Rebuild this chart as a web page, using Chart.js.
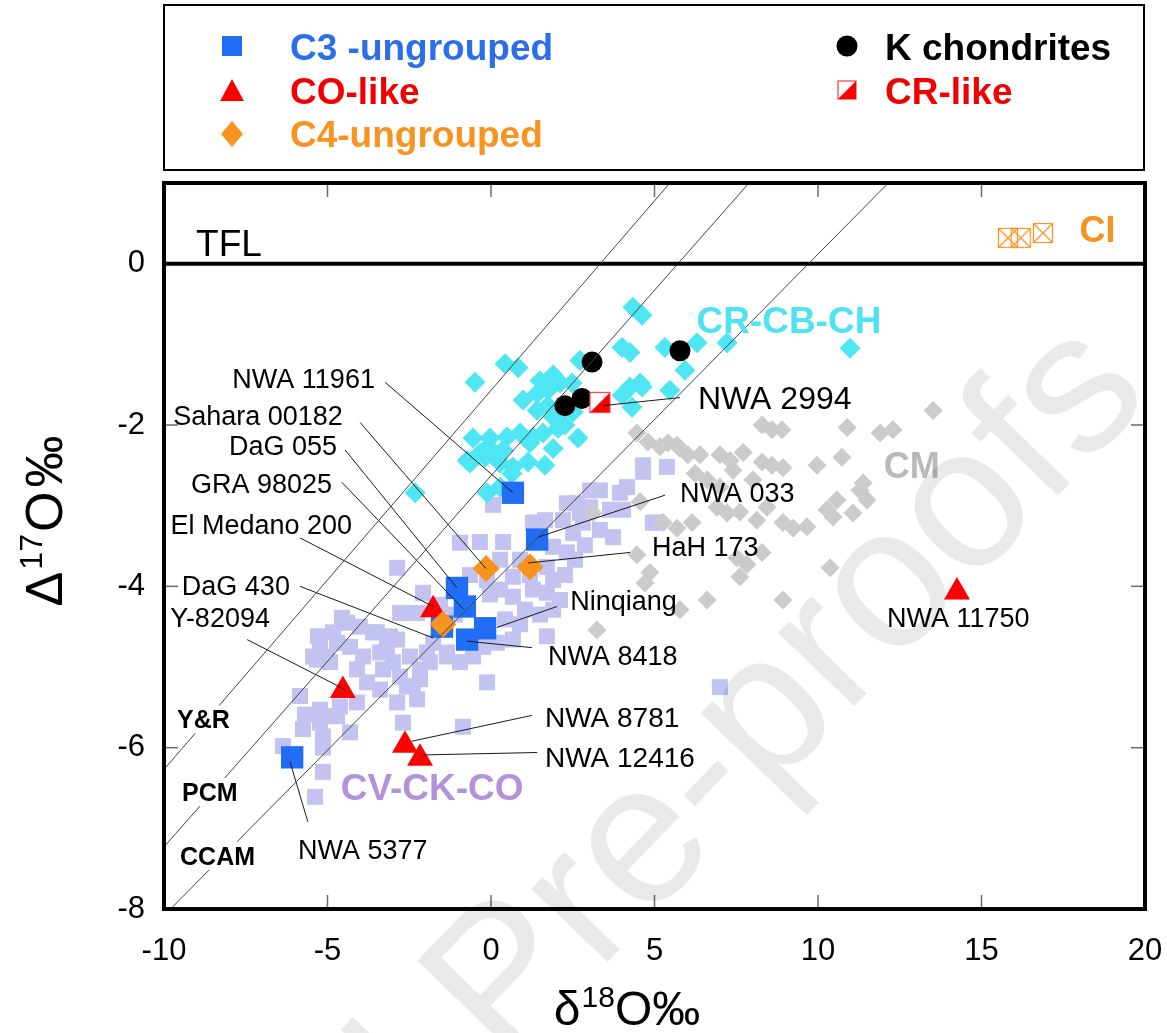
<!DOCTYPE html>
<html><head><meta charset="utf-8">
<script src="https://cdn.jsdelivr.net/npm/chart.js@4.4.1/dist/chart.umd.min.js"></script>
<style>
html,body{margin:0;padding:0;background:#fff;}
#wrap{position:relative;width:1167px;height:1033px;overflow:hidden;font-family:"Liberation Sans",Arial,sans-serif;}
#c{position:absolute;left:0;top:0;}
#legendBox{position:absolute;left:163px;top:4px;width:978px;height:163px;border:2px solid #000;}
.lt{position:absolute;font-weight:bold;font-size:37px;line-height:1;white-space:nowrap;}
svg.ic{position:absolute;left:0;top:0;}
</style></head><body>
<div id="wrap">
<canvas id="c" width="1167" height="1033"></canvas>
<div id="legendBox"></div>
<svg class="ic" width="1167" height="180" id="legendIcons"></svg>
</div>
<script>
// ---------------- DATA (δ18O ‰, Δ17O ‰) ----------------
const xTickVals = [-10, -5, 0, 5, 10, 15, 20];
const yTickVals = [-8, -6, -4, -2, 0];

const cvckco = [
 [0.06,-2.99],[4.65,-2.58],[3.33,-2.81],[3.94,-2.84],[2.63,-2.97],[3.03,-3.02],[3.64,-3.05],[2.20,-3.18],
 [2.81,-3.21],[4.95,-3.21],[3.73,-3.39],[-0.95,-3.46],[-0.34,-3.45],[0.37,-3.45],[1.28,-3.21],[1.90,-3.51],
 [2.32,-3.58],[1.71,-3.76],[1.90,-3.92],[1.28,-4.04],[1.71,-4.08],[0.67,-3.88],[0.67,-4.13],[0.28,-4.04],
 [-0.12,-3.92],[-2.87,-3.77],[1.71,-4.62],[-2.08,-4.08],[-2.69,-4.33],[-2.26,-4.33],[-0.24,-4.75],[0.18,-4.70],
 [0.67,-4.66],[-1.77,-4.70],[-3.49,-4.57],[-3.09,-4.62],[-4.40,-4.45],[-4.83,-4.57],[-5.23,-4.70],[-5.44,-4.87],
 [-5.02,-4.87],[-4.31,-4.75],[-3.91,-4.87],[-4.10,-5.03],[-3.39,-4.82],[-3.00,-4.94],[-2.78,-5.12],[-2.48,-4.87],
 [-2.17,-5.03],[-1.87,-4.94],[-1.35,-4.87],[-0.95,-4.94],[-0.55,-4.87],[-2.39,-5.24],[-2.26,-5.40],[-3.79,-5.19],
 [-3.39,-5.28],[-5.23,-5.53],[-4.83,-5.61],[-5.23,-5.69],[-0.12,-5.19],[-0.86,-5.74],[-2.87,-5.44],[-4.71,-4.70],
 [-5.32,-4.91],[-4.92,-4.94],[-4.01,-4.50],[-3.61,-4.57],[-3.18,-4.75],[-2.87,-4.66],[-3.30,-5.03],[-2.57,-5.24],
 [-2.17,-5.15],[-4.62,-5.49],[-4.10,-5.44],[-4.71,-5.61],[-5.14,-5.86],[-4.31,-5.81],[-5.14,-6.00],[-2.69,-5.69],
 [-6.36,-5.98],[-5.14,-6.30],[-5.38,-6.61],[-1.96,-4.82],[-1.35,-4.82],[-2.78,-4.33],[4.65,-2.50],[5.38,-2.52],
 [3.03,-2.81],[4.16,-2.77],[2.32,-2.97],[2.72,-3.09],[5.08,-3.21],[1.41,-3.21],[2.51,-3.34],[7.00,-5.25],
 [0.89,-3.67],[1.19,-3.86],[2.11,-4.17],[1.04,-4.29],[1.50,-4.35],[0.43,-4.41],[0.89,-4.47],[-0.64,-3.86],
 [-1.56,-4.23],[-1.10,-4.35],[-5.84,-5.36],[-5.69,-5.59],[-5.75,-5.77],[-5.29,-4.62],[-4.56,-4.39],[0.28,-3.67],
 [-0.03,-4.10],[2.26,-3.86],[2.57,-3.67],[2.87,-3.49],[3.33,-3.30],[4.04,-3.05],[1.90,-4.29],[1.65,-3.18]
];

const cm = [
 [13.52,-1.82],[8.29,-2.00],[8.59,-2.06],[8.90,-2.06],[10.89,-2.03],[11.90,-2.10],[12.29,-2.06],[4.46,-2.10],
 [4.80,-2.21],[5.41,-2.22],[5.78,-2.29],[6.02,-2.37],[7.00,-2.37],[7.31,-2.44],[7.71,-2.34],[8.29,-2.46],
 [8.59,-2.50],[8.93,-2.53],[9.97,-2.50],[10.73,-2.40],[6.24,-2.60],[6.61,-2.68],[7.00,-2.77],[7.40,-2.56],
 [8.01,-2.68],[11.38,-2.72],[11.50,-2.93],[10.58,-2.93],[10.28,-3.05],[8.44,-3.02],[7.61,-3.08],[7.22,-3.09],
 [3.12,-3.09],[4.56,-2.95],[5.26,-3.21],[5.69,-3.28],[6.15,-3.21],[8.93,-3.21],[9.24,-3.28],[9.66,-3.26],
 [10.46,-3.14],[4.46,-3.61],[4.86,-3.83],[4.71,-3.96],[7.52,-3.65],[7.83,-3.73],[7.61,-3.88],[8.29,-3.58],
 [10.37,-3.77],[6.61,-4.17],[8.93,-4.17],[5.78,-4.29],[3.24,-4.54],[5.17,-2.27],[5.69,-2.25],[6.91,-3.02],
 [8.13,-3.18],[11.07,-3.09],[11.28,-2.81],[6.39,-2.37]
];

const crcbch = [
 [4.34,-0.54],[4.62,-0.64],[-0.49,-1.47],[0.43,-1.24],[0.83,-1.29],[2.72,-1.20],[4.01,-1.04],[4.25,-1.10],
 [5.32,-1.04],[6.30,-0.98],[7.22,-0.98],[10.98,-1.05],[5.93,-1.32],[5.47,-1.57],[4.56,-1.48],[4.25,-1.53],
 [4.01,-1.63],[4.31,-1.78],[1.50,-1.45],[1.90,-1.38],[2.11,-1.48],[1.41,-1.61],[1.74,-1.57],[0.98,-1.69],
 [1.41,-1.82],[1.90,-1.90],[2.51,-1.84],[2.66,-2.16],[1.65,-2.50],[-0.55,-2.16],[-0.03,-2.16],[0.49,-2.15],
 [0.89,-2.10],[1.28,-2.15],[-0.73,-2.44],[-0.34,-2.35],[0.18,-2.40],[0.67,-2.52],[0.37,-2.31],[1.90,-2.29],
 [1.13,-2.46],[-0.12,-2.84],[-2.32,-2.84],[2.05,-2.04],[1.59,-2.10],[-0.09,-2.27],[1.19,-2.22],[-0.64,-2.47],
 [-0.18,-2.40],[0.28,-2.47],[2.48,-1.48],[4.62,-1.53],[2.26,-2.00],[1.74,-1.76],[0.64,-2.60],[0.28,-2.77]
];

const c3Ungrouped = [[0.67,-2.84],[1.41,-3.42],[-1.04,-4.02],[-0.80,-4.25],[-1.50,-4.50],[-0.18,-4.52],[-0.73,-4.66],[-6.08,-6.12]];
const coLike      = [[-1.77,-4.29],[-4.53,-5.29],[-2.63,-5.97],[-2.17,-6.13],[14.25,-4.07]];
const c4Ungrouped = [[-0.15,-3.78],[1.19,-3.76],[-1.47,-4.47]];
const kChondrites = [[3.09,-1.22],[5.78,-1.08],[2.26,-1.76],[2.78,-1.67]];
const crLike      = [[3.33,-1.72]];
const ci          = [[15.81,0.32],[16.20,0.32],[16.88,0.38]];

// reference lines: names, start and end points
const refNames = ['Y&R', 'PCM', 'CCAM'];
const refStart = [[-10,-6.27],[-10,-7.23],[-9.80,-8]];
const refEnd   = [[5.47,1],[7.89,1],[12.15,1]];

const seriesNames = ['C3 -ungrouped','CO-like','C4-ungrouped','K chondrites','CR-like'];

// ---------------- ANNOTATIONS ----------------
const FONTC = '"Liberation Sans", Arial, sans-serif';
const notes = [
 {t:'NWA 11961', at:[-3.55,-1.42], a:'right', s:27},
 {t:'Sahara 00182', at:[-4.53,-1.88], a:'right', s:27},
 {t:'DaG 055', at:[-4.71,-2.25], a:'right', s:27},
 {t:'GRA 98025', at:[-4.86,-2.72], a:'right', s:27},
 {t:'El Medano 200', at:[-4.25,-3.23], a:'right', s:27},
 {t:'DaG 430', at:[-6.15,-3.99], a:'right', s:27},
 {t:'Y-82094', at:[-6.76,-4.39], a:'right', s:27},
 {t:'NWA 2994', at:[6.33,-1.66], a:'left', s:32},
 {t:'NWA 033', at:[5.78,-2.83], a:'left', s:27},
 {t:'HaH 173', at:[4.92,-3.50], a:'left', s:27},
 {t:'Ninqiang', at:[2.42,-4.17], a:'left', s:27},
 {t:'NWA 8418', at:[1.74,-4.85], a:'left', s:27},
 {t:'NWA 8781', at:[1.65,-5.62], a:'left', s:28},
 {t:'NWA 12416', at:[1.65,-6.11], a:'left', s:28},
 {t:'NWA 5377', at:[-5.90,-7.26], a:'left', s:27},
 {t:'NWA 11750', at:[12.11,-4.39], a:'left', s:27}
];
const leaders = [
 [[-3.24,-1.47],[0.67,-2.84]],
 [[-4.00,-1.97],[-0.15,-3.78]],
 [[-4.46,-2.31],[-1.04,-4.02]],
 [[-4.56,-2.71],[-0.85,-4.28]],
 [[-5.84,-3.40],[-1.77,-4.25]],
 [[-5.84,-4.00],[-1.77,-4.64]],
 [[-7.46,-4.66],[-4.46,-5.28]],
 [[5.78,-1.66],[3.43,-1.76]],
 [[5.32,-2.87],[1.44,-3.39]],
 [[4.25,-3.58],[1.13,-3.71]],
 [[2.02,-4.25],[0.18,-4.51]],
 [[1.25,-4.76],[-0.73,-4.68]],
 [[1.25,-5.60],[-2.42,-5.92]],
 [[1.41,-6.06],[-2.08,-6.09]],
 [[-5.60,-6.92],[-6.15,-6.17]]
];
const groupNotes = [
 {t:'CR-CB-CH', at:[9.11,-0.69], a:'center', s:37, c:'#4FE3F2'},
 {t:'CV-CK-CO', at:[-1.80,-6.48], a:'center', s:37, c:'#B491DC'},
 {t:'CM', at:[12.87,-2.50], a:'center', s:36, c:'#B9B9B9'},
 {t:'CI', at:[18.55,0.43], a:'center', s:36, c:'#F7931E'},
 {t:'TFL', at:[-9.02,0.26], a:'left', s:37, c:'#000', w:'normal'}
];
const refLabelAt = [[-9.60,-5.65],[-9.45,-6.55],[-9.51,-7.34]];

// ---------------- CUSTOM MARKERS ----------------
function makeCRLike(size){
  const c = document.createElement('canvas'); c.width = size+2; c.height = size+2;
  const g = c.getContext('2d');
  g.fillStyle = '#fff'; g.fillRect(1,1,size,size);
  g.fillStyle = '#FF0000'; g.beginPath(); g.moveTo(1,size+1); g.lineTo(size+1,1); g.lineTo(size+1,size+1); g.closePath(); g.fill();
  g.strokeStyle = '#F04040'; g.lineWidth = 1.2; g.strokeRect(1.5,1.5,size-1,size-1);
  return c;
}
function makeCI(size){
  const c = document.createElement('canvas'); c.width = size+2; c.height = size+2;
  const g = c.getContext('2d');
  g.strokeStyle = '#F7931E'; g.lineWidth = 1.2;
  g.strokeRect(1.5,1.5,size-1,size-1);
  g.beginPath(); g.moveTo(1.5,1.5); g.lineTo(size+0.5,size+0.5); g.moveTo(size+0.5,1.5); g.lineTo(1.5,size+0.5); g.stroke();
  return c;
}
const crImg = makeCRLike(21);
const ciImg = makeCI(20);

const P = arr => arr.map(([x,y]) => ({x, y}));

const datasets = [
 {label:'CV-CK-CO', data:P(cvckco), pointStyle:'rect', pointRadius:11.3, backgroundColor:'#C3C3F1', borderWidth:0, order:8},
 {label:'CM', data:P(cm), pointStyle:'rectRot', pointRadius:9.5, backgroundColor:'#CBCBCB', borderWidth:0, order:7},
 {label:'CR-CB-CH', data:P(crcbch), pointStyle:'rectRot', pointRadius:10.5, backgroundColor:'#4FE6F4', borderWidth:0, order:6},
 {label:'CI', data:P(ci), pointStyle:ciImg, pointRadius:10, order:5},
 {label:seriesNames[0], data:P(c3Ungrouped), pointStyle:'rect', pointRadius:15.8, backgroundColor:'#1F6EF5', borderWidth:0, order:5},
 {label:seriesNames[1], data:P(coLike), pointStyle:'triangle', pointRadius:15, backgroundColor:'#FF0000', borderWidth:0, order:4},
 {label:seriesNames[2], data:P(c4Ungrouped), pointStyle:'rectRot', pointRadius:13.5, backgroundColor:'#F7931E', borderWidth:0, order:3},
 {label:seriesNames[3], data:P(kChondrites), pointStyle:'circle', pointRadius:10.5, backgroundColor:'#000', borderWidth:0, order:2},
 {label:seriesNames[4], data:P(crLike), pointStyle:crImg, pointRadius:11, order:1}
];
refStart.forEach((s,i) => datasets.push({label:refNames[i], data:P([s, refEnd[i]]), showLine:true, pointRadius:0, borderColor:'#444', borderWidth:1, order:0}));
leaders.forEach(l => datasets.push({label:'leader', data:P(l), showLine:true, pointRadius:0, borderColor:'#1a1a1a', borderWidth:1, order:0}));

function drawText(ctx, s, x, yc, size, weight, color, align){
  ctx.font = `${weight} ${size}px ${FONTC}`;
  ctx.fillStyle = color; ctx.textAlign = align; ctx.textBaseline = 'alphabetic';
  ctx.fillText(s, x, yc + size*0.358);
}
// draws a title made of [text, fontSize, baselineShift, gapAfter] pieces, centred at 0
function drawPieces(ctx, pieces){
  let total = 0;
  pieces.forEach(p => { ctx.font = `${p[1]}px ${FONTC}`; p.w = ctx.measureText(p[0]).width; total += p.w + p[3]; });
  let sx = -total/2;
  pieces.forEach(p => { ctx.font = `${p[1]}px ${FONTC}`; ctx.fillText(p[0], sx, -p[2]); sx += p.w + p[3]; });
}

const decor = {
  id:'decor',
  afterDatasetsDraw(chart){
    const {ctx, chartArea:a, scales:{x, y}} = chart;
    ctx.save();
    const seg = (x0,y0,x1,y1) => { ctx.beginPath(); ctx.moveTo(x0,y0); ctx.lineTo(x1,y1); ctx.stroke(); };
    // inward ticks
    ctx.strokeStyle = '#6a6a6a'; ctx.lineWidth = 1.5;
    xTickVals.forEach(v => { const p = x.getPixelForValue(v); if (p < a.left+3 || p > a.right-3) return;
      seg(p, a.top, p, a.top+14); seg(p, a.bottom, p, a.bottom-14); });
    yTickVals.forEach(v => { const p = y.getPixelForValue(v); if (p > a.bottom-3 || v === 0) return;
      seg(a.left, p, a.left+14, p); seg(a.right, p, a.right-14, p); });
    // TFL line and frame
    ctx.strokeStyle = '#000'; ctx.lineWidth = 4;
    const y0 = y.getPixelForValue(0); seg(a.left, y0, a.right, y0);
    ctx.strokeRect(a.left, a.top, a.right-a.left, a.bottom-a.top);
    // reference line labels with white mask
    refNames.forEach((n,i) => {
      const px = x.getPixelForValue(refLabelAt[i][0]), py = y.getPixelForValue(refLabelAt[i][1]);
      ctx.font = `bold 25px ${FONTC}`;
      const w = ctx.measureText(n).width;
      ctx.fillStyle = '#fff'; ctx.fillRect(px-4, py-14, w+8, 28);
      drawText(ctx, n, px, py, 25, 'bold', '#000', 'left');
    });
    notes.forEach(n => drawText(ctx, n.t, x.getPixelForValue(n.at[0]), y.getPixelForValue(n.at[1]), n.s, 'normal', '#000', n.a));
    groupNotes.forEach(n => drawText(ctx, n.t, x.getPixelForValue(n.at[0]), y.getPixelForValue(n.at[1]), n.s, n.w || 'bold', n.c, n.a));
    ctx.restore();
  },
  afterDraw(chart){
    const {ctx} = chart;
    ctx.save();
    ctx.textBaseline = 'alphabetic'; ctx.textAlign = 'left'; ctx.fillStyle = '#000';
    // x title: δ18O‰
    ctx.translate(627, 1025);
    drawPieces(ctx, [['δ',48,0,1],['18',30,18,0],['O‰',48,0,0]]);
    ctx.restore();
    // y title: Δ17O‰
    ctx.save();
    ctx.textBaseline = 'alphabetic'; ctx.textAlign = 'left'; ctx.fillStyle = '#000';
    ctx.translate(62, 521); ctx.rotate(-Math.PI/2);
    drawPieces(ctx, [['Δ',52,0,2],['17',32,20,2],['O',52,0,4],['‰',52,0,0]]);
    ctx.restore();
    // watermark
    ctx.save();
    ctx.translate(505, 1068); ctx.rotate(-46*Math.PI/180);
    ctx.font = `200px ${FONTC}`; ctx.fillStyle = 'rgba(0,0,0,0.085)'; ctx.textBaseline = 'alphabetic';
    const jw = ctx.measureText('Journal ').width;
    ctx.textAlign = 'left'; ctx.fillText('Journal Pre-proofs', -jw, 0);
    ctx.restore();
  }
};

Chart.defaults.font.family = FONTC;
new Chart(document.getElementById('c'), {
  type:'scatter',
  data:{datasets},
  options:{
    responsive:false, devicePixelRatio:1, animation:false, events:[],
    layout:{padding:{top:183, right:22, left:0, bottom:0}},
    plugins:{legend:{display:false}, tooltip:{enabled:false}},
    scales:{
      x:{type:'linear', min:-10, max:20, position:'bottom',
         afterBuildTicks: ax => { ax.ticks = xTickVals.map(v => ({value:v})); },
         afterFit: ax => { ax.height = 124; ax.paddingLeft = 0; ax.paddingRight = 0; },
         grid:{display:false, drawTicks:false}, border:{display:false},
         ticks:{padding:24, color:'#000', font:{size:31}, maxRotation:0, autoSkip:false}},
      y:{type:'linear', min:-8, max:1, position:'left',
         afterBuildTicks: ax => { ax.ticks = yTickVals.map(v => ({value:v})); },
         afterFit: ax => { ax.width = 164; ax.paddingTop = 0; ax.paddingBottom = 0; },
         grid:{display:false, drawTicks:false}, border:{display:false},
         ticks:{padding:19, color:'#000', font:{size:31}, autoSkip:false}}
    }
  },
  plugins:[decor]
});

// ---------------- HTML LEGEND ----------------
const legendColors = ['#2B6DEB','#F00000','#F7931E','#000000','#F00000'];
const legendTextPos = [[290,29],[290,73],[290,116],[885,29],[885,73]];
const wrap = document.getElementById('wrap');
seriesNames.forEach((n,i) => {
  const d = document.createElement('div'); d.className = 'lt'; d.textContent = n;
  d.style.left = legendTextPos[i][0]+'px'; d.style.top = legendTextPos[i][1]+'px'; d.style.color = legendColors[i];
  wrap.appendChild(d);
});
document.getElementById('legendIcons').innerHTML =
  '<rect x="222" y="36" width="20" height="20" fill="#1F6EF5"/>' +
  '<polygon points="232,79 220,101 244,101" fill="#FF0000"/>' +
  '<polygon points="232,121 243,134 232,147 221,134" fill="#F7931E"/>' +
  '<circle cx="847" cy="46" r="10.5" fill="#000"/>' +
  '<rect x="838" y="81" width="18" height="18" fill="#fff" stroke="#F04040" stroke-width="1.2"/>' +
  '<polygon points="838,99 856,81 856,99" fill="#FF0000"/>';
</script>
</body></html>
